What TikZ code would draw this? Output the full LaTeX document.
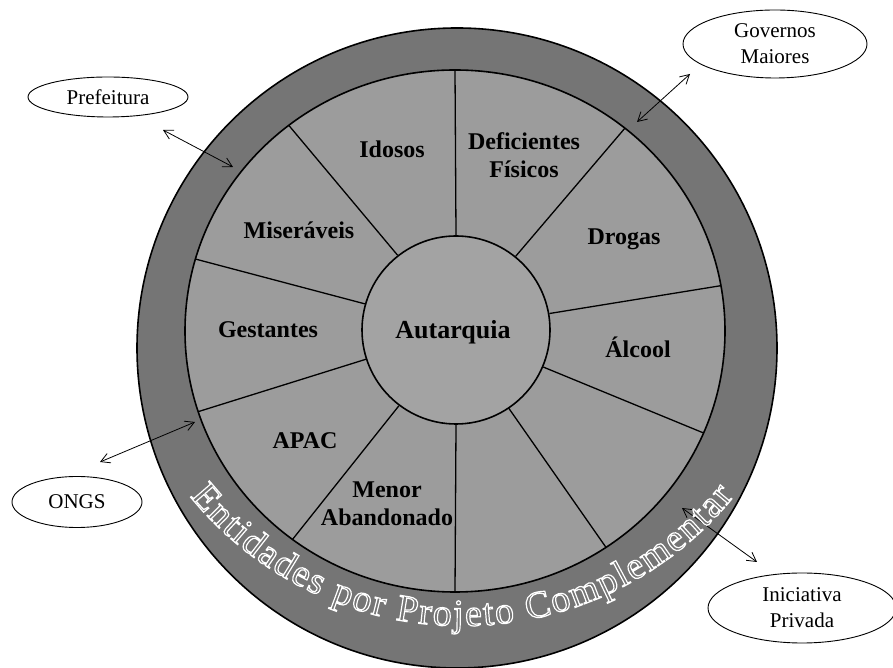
\documentclass[tikz,border=0pt]{standalone}
\usepackage{fontspec}
\setmainfont{Liberation Serif}
\usetikzlibrary{arrows.meta,decorations.text,shapes.geometric,calc}
\definecolor{bandgray}{gray}{0.46}
\definecolor{sectgray}{gray}{0.61}
\definecolor{centgray}{gray}{0.64}
\newcommand{\outlinetext}{\special{pdf:literal direct 1 Tr 1.2 w 1 1 1 RG}}
\begin{document}
\begin{tikzpicture}[x=1pt,y=1pt,
  lbl/.style={font=\fontsize{24}{28}\selectfont\bfseries, align=center, inner sep=0pt},
  extn/.style={ellipse, draw, line width=0.9pt, inner sep=0pt, align=center,
    font=\fontsize{21}{26}\selectfont},
  arr/.style={{Straight Barb[length=9pt,width=10pt]}-{Straight Barb[length=9pt,width=10pt]}, line width=0.8pt},
  ringline/.style={line width=1.6pt},
  radial/.style={line width=1.3pt}]
\useasboundingbox (0,0) rectangle (893,668);
\fill[white] (0,0) rectangle (893,668);
% disc
\coordinate (oc) at (457,320);
\coordinate (c) at (455,337);
\coordinate (tc) at (462,392);
\draw[ringline, fill=bandgray] (oc) circle[radius=320pt];
\draw[ringline, fill=sectgray] (c) ellipse[x radius=270pt, y radius=261pt];
% centre
\node[circle, draw, ringline, fill=centgray, minimum size=188pt, inner sep=0pt] (aut) at (456,338) {};
\node[lbl, font=\fontsize{26}{30}\selectfont\bfseries] (autl) at (453,336) {Autarquia};
% radial lines
\foreach \a in {90,128,164,198,233,270,304,337,10,51}{
  \coordinate (e\a) at ($(c)+(\a:270pt and 261pt)$);
  \draw[radial] (aut.\a) -- (e\a);
}
% sector labels
\node[lbl] (idosos) at (392,519) {Idosos};
\node[lbl] (defic) at (524,513) {Deficientes\\Físicos};
\node[lbl] (miser) at (299,438) {Miseráveis};
\node[lbl] (drogas) at (624,429) {Drogas};
\node[lbl] (gest) at (268,338) {Gestantes};
\node[lbl] (alcool) at (638,321) {Álcool};
\node[lbl] (apac) at (305,227) {APAC};
\node[lbl] (menor) at (387,164) {Menor\\Abandonado};
% external entities
\node[extn, minimum width=160pt, minimum height=40pt] (pref) at (108,571) {Prefeitura};
\node[extn, minimum width=184pt, minimum height=68pt] (gov) at (775,624) {Governos\\Maiores};
\node[extn, minimum width=130pt, minimum height=51pt] (ongs) at (77,166) {ONGS};
\node[extn, minimum width=188pt, minimum height=70pt] (inic) at (802,60) {Iniciativa\\Privada};
% arrows
\coordinate (pA) at (163,538); \coordinate (pB) at (233,501);
\coordinate (gA) at (690,594); \coordinate (gB) at (637,546);
\coordinate (oA) at (100,206); \coordinate (oB) at (195,246);
\coordinate (iA) at (757,106); \coordinate (iB) at (682,160);
\draw[arr] (pA) -- (pB);
\draw[arr] (gA) -- (gB);
\draw[arr] (oA) -- (oB);
\draw[arr] (iA) -- (iB);
% ring text
\path[decorate, decoration={text along path, text align={fit to path},
  text={|\fontsize{38}{38}\selectfont\outlinetext|Entidades por Projeto Complementar}}]
  ([shift={(219:350pt)}]tc) arc[start angle=219, end angle=321, radius=350pt];
\end{tikzpicture}
\end{document}
